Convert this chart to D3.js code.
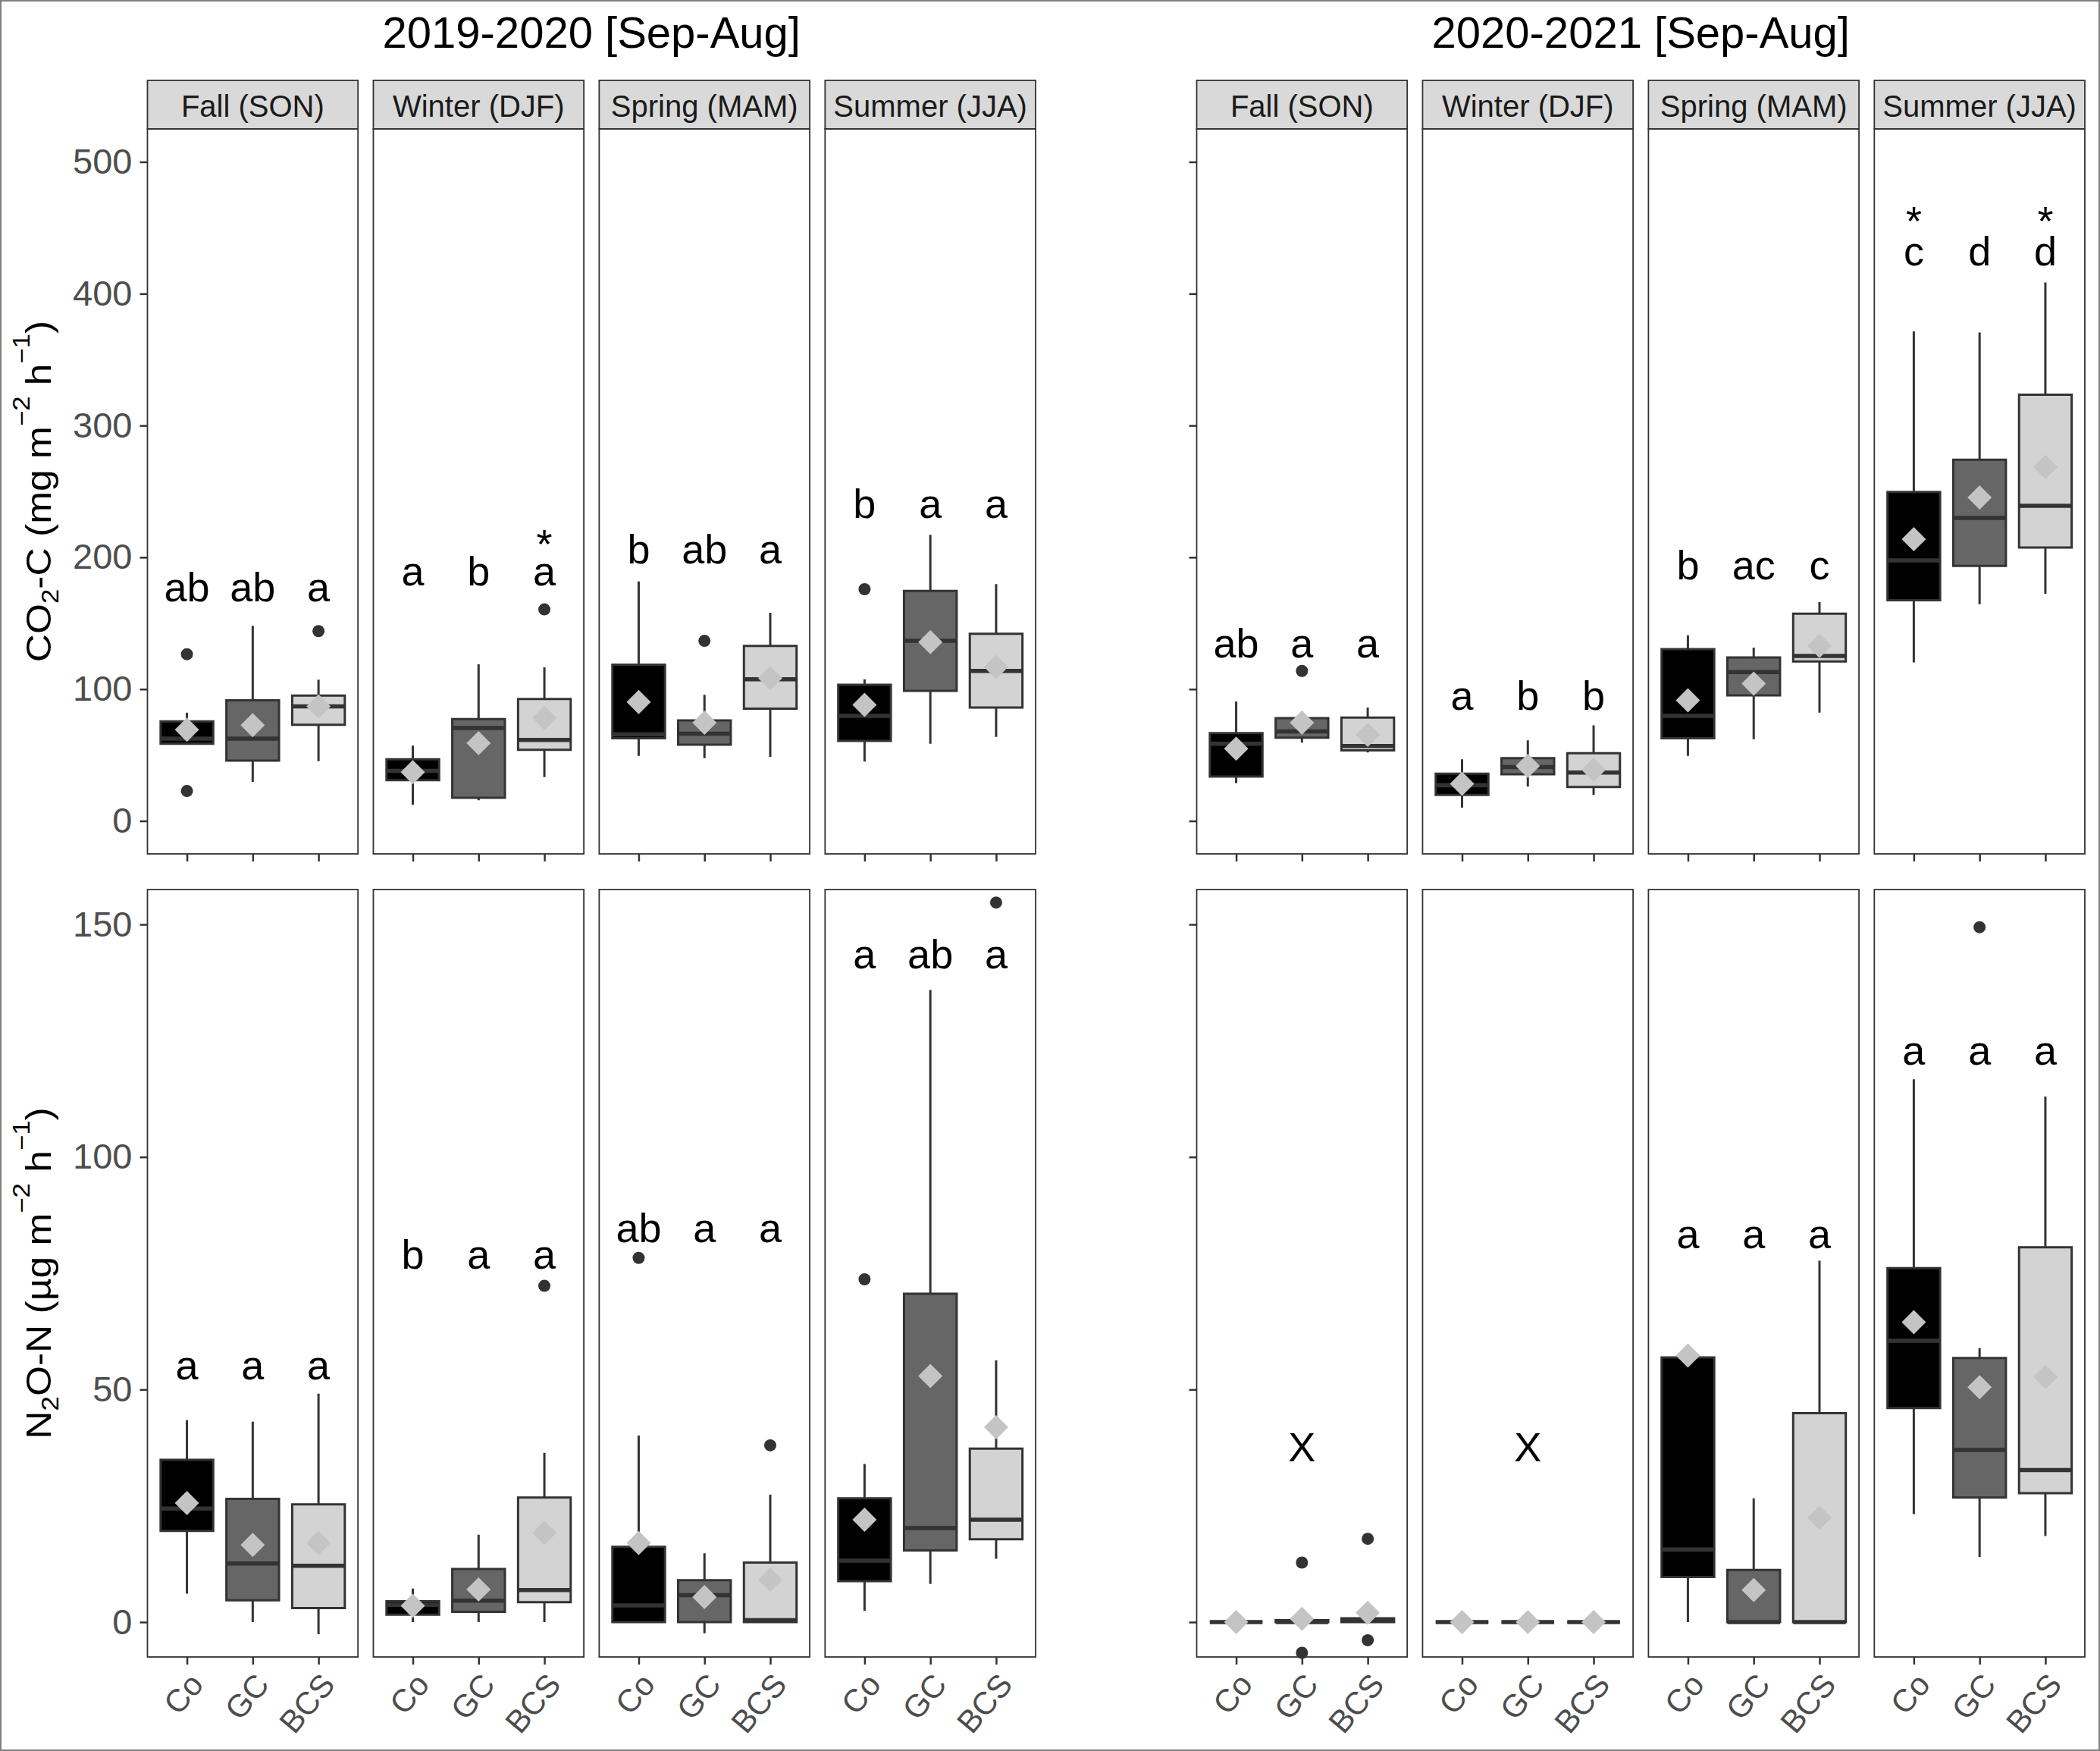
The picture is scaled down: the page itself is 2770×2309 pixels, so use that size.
<!DOCTYPE html>
<html>
<head>
<meta charset="utf-8" />
<title>CO2 and N2O seasonal boxplots</title>
<script src="https://d3js.org/d3.v7.min.js"></script>
<style>
  body { margin: 0; background: #fff; }
  text { font-family: "Liberation Sans", Arial, sans-serif; }
</style>
</head>
<body>
<svg id="chart"></svg>
<script>
var width = 2770, height = 2309;

var years = ["2019-2020 [Sep-Aug]", "2020-2021 [Sep-Aug]"];
var seasons = ["Fall (SON)", "Winter (DJF)", "Spring (MAM)", "Summer (JJA)"];
var treatments = ["Co", "GC", "BCS"];
var co2Limits = [0, 500];
var n2oLimits = [0, 150];
var co2Ticks = [0, 100, 200, 300, 400, 500];
var n2oTicks = [0, 50, 100, 150];

// season, treatment, lower whisker, q1, median, q3, upper whisker, mean
var co2Y1 = [
  ["Fall (SON)",   "Co",  58.6, 58.6,  62.5,  75.5,  82.1,  69.2],
  ["Fall (SON)",   "GC",  29.6, 45.7,  62.5,  91.5, 148.0,  72.6],
  ["Fall (SON)",   "BCS", 45.3, 73.0,  86.9,  95.1, 107.2,  86.9],
  ["Winter (DJF)", "Co",  12.2, 30.9,  38.0,  46.8,  57.1,  37.0],
  ["Winter (DJF)", "GC",  15.7, 17.6,  70.5,  77.2, 118.8,  59.0],
  ["Winter (DJF)", "BCS", 33.2, 53.9,  61.5,  92.5, 116.5,  78.1],
  ["Spring (MAM)", "Co",  49.3, 62.8,  65.8, 118.5, 181.7,  90.2],
  ["Spring (MAM)", "GC",  47.6, 57.8,  66.2,  76.3,  95.7,  74.6],
  ["Spring (MAM)", "BCS", 48.5, 85.2, 107.5, 132.8, 158.0, 108.3],
  ["Summer (JJA)", "Co",  45.0, 60.7,  79.7, 103.3, 107.5,  88.0],
  ["Summer (JJA)", "GC",  58.6, 98.7, 136.6, 174.5, 217.0, 135.7],
  ["Summer (JJA)", "BCS", 63.7, 86.0, 113.8, 142.0, 179.6, 116.8]
];
var co2Y1Out = [
  ["Fall (SON)", "Co", 126.5], ["Fall (SON)", "Co", 22.7], ["Fall (SON)", "BCS", 144.0],
  ["Winter (DJF)", "BCS", 160.5], ["Spring (MAM)", "GC", 136.6], ["Summer (JJA)", "Co", 175.8]
];
var co2Y1Letters = [
  ["Fall (SON)", "Co", "ab", 166.6], ["Fall (SON)", "GC", "ab", 166.6], ["Fall (SON)", "BCS", "a", 166.6],
  ["Winter (DJF)", "Co", "a", 178.4], ["Winter (DJF)", "GC", "b", 178.4], ["Winter (DJF)", "BCS", "a", 178.4],
  ["Winter (DJF)", "BCS", "*", 199.5],
  ["Spring (MAM)", "Co", "b", 195.6], ["Spring (MAM)", "GC", "ab", 195.6], ["Spring (MAM)", "BCS", "a", 195.6],
  ["Summer (JJA)", "Co", "b", 229.8], ["Summer (JJA)", "GC", "a", 229.8], ["Summer (JJA)", "BCS", "a", 229.8]
];

var co2Y2 = [
  ["Fall (SON)",   "Co",   28.7,  33.7,  58.6,  66.6,  90.6,  54.8],
  ["Fall (SON)",   "GC",   59.4,  63.2,  67.9,  78.0,  83.0,  74.6],
  ["Fall (SON)",   "BCS",  51.9,  53.5,  56.9,  78.4,  86.0,  65.3],
  ["Winter (DJF)", "Co",   10.1,  19.8,  27.0,  35.8,  46.8,  28.2],
  ["Winter (DJF)", "GC",   26.1,  35.4,  40.9,  47.6,  61.1,  41.7],
  ["Winter (DJF)", "BCS",  19.8,  25.7,  36.7,  51.4,  72.5,  38.8],
  ["Spring (MAM)", "Co",   49.3,  62.8,  79.7, 130.3, 140.8,  91.5],
  ["Spring (MAM)", "GC",   62.0,  95.3, 113.0, 124.0, 131.5, 104.1],
  ["Spring (MAM)", "BCS",  82.2, 121.0, 125.2, 157.3, 166.0, 132.8],
  ["Summer (JJA)", "Co",  120.2, 167.4, 197.7, 249.6, 371.4, 213.7],
  ["Summer (JJA)", "GC",  164.4, 193.5, 229.8, 274.0, 370.6, 245.4],
  ["Summer (JJA)", "BCS", 172.4, 207.4, 239.0, 323.4, 408.5, 268.5]
];
var co2Y2Out = [
  ["Fall (SON)", "GC", 113.8]
];
var co2Y2Letters = [
  ["Fall (SON)", "Co", "ab", 124], ["Fall (SON)", "GC", "a", 124], ["Fall (SON)", "BCS", "a", 124],
  ["Winter (DJF)", "Co", "a", 84.3], ["Winter (DJF)", "GC", "b", 84.3], ["Winter (DJF)", "BCS", "b", 84.3],
  ["Spring (MAM)", "Co", "b", 183], ["Spring (MAM)", "GC", "ac", 183], ["Spring (MAM)", "BCS", "c", 183],
  ["Summer (JJA)", "Co", "c", 421.6], ["Summer (JJA)", "GC", "d", 421.6], ["Summer (JJA)", "BCS", "d", 421.6],
  ["Summer (JJA)", "Co", "*", 444.7], ["Summer (JJA)", "BCS", "*", 444.7]
];

var n2oY1 = [
  ["Fall (SON)",   "Co",   6.1, 19.6, 24.4, 34.9,  43.4, 25.6],
  ["Fall (SON)",   "GC",   0.0,  4.7, 12.6, 26.5,  43.1, 16.6],
  ["Fall (SON)",   "BCS", -2.6,  3.0, 12.1, 25.3,  49.1, 17.0],
  ["Winter (DJF)", "Co",   0.0,  1.6,  3.7,  4.5,   7.2,  3.5],
  ["Winter (DJF)", "GC",   0.0,  2.2,  4.6, 11.4,  18.8,  7.0],
  ["Winter (DJF)", "BCS",  0.0,  4.3,  6.9, 26.8,  36.4, 19.2],
  ["Spring (MAM)", "Co",   0.0,  0.0,  3.6, 16.2,  40.1, 17.0],
  ["Spring (MAM)", "GC",  -2.4,  0.0,  5.8,  9.0,  14.8,  5.4],
  ["Spring (MAM)", "BCS",  0.0,  0.0,  0.4, 12.8,  27.4,  9.1],
  ["Summer (JJA)", "Co",   2.4,  8.8, 13.2, 26.6,  34.0, 22.0],
  ["Summer (JJA)", "GC",   8.2, 15.4, 20.2, 70.6, 135.9, 52.9],
  ["Summer (JJA)", "BCS", 13.6, 17.8, 22.0, 37.3,  56.3, 41.9]
];
var n2oY1Out = [
  ["Winter (DJF)", "BCS", 72.3], ["Spring (MAM)", "Co", 78.3], ["Spring (MAM)", "BCS", 38.0],
  ["Summer (JJA)", "Co", 73.7], ["Summer (JJA)", "BCS", 154.7]
];
var n2oY1Letters = [
  ["Fall (SON)", "Co", "a", 52.1], ["Fall (SON)", "GC", "a", 52.1], ["Fall (SON)", "BCS", "a", 52.1],
  ["Winter (DJF)", "Co", "b", 76], ["Winter (DJF)", "GC", "a", 76], ["Winter (DJF)", "BCS", "a", 76],
  ["Spring (MAM)", "Co", "ab", 81.7], ["Spring (MAM)", "GC", "a", 81.7], ["Spring (MAM)", "BCS", "a", 81.7],
  ["Summer (JJA)", "Co", "a", 140.5], ["Summer (JJA)", "GC", "ab", 140.5], ["Summer (JJA)", "BCS", "a", 140.5]
];

var n2oY2 = [
  ["Fall (SON)",   "Co",   0.0,  0.0,  0.0,  0.0,   0.0,  0.0],
  ["Fall (SON)",   "GC",   0.0,  0.0,  0.0,  0.4,   0.4,  0.7],
  ["Fall (SON)",   "BCS",  0.0,  0.0,  0.4,  0.8,   0.8,  2.0],
  ["Winter (DJF)", "Co",   0.0,  0.0,  0.0,  0.0,   0.0,  0.0],
  ["Winter (DJF)", "GC",   0.0,  0.0,  0.0,  0.0,   0.0,  0.0],
  ["Winter (DJF)", "BCS",  0.0,  0.0,  0.0,  0.0,   0.0,  0.0],
  ["Spring (MAM)", "Co",   0.0,  9.7, 15.6, 56.9,  56.9, 57.3],
  ["Spring (MAM)", "GC",   0.0,  0.0,  0.0, 11.2,  26.6,  6.9],
  ["Spring (MAM)", "BCS",  0.0,  0.0,  0.0, 44.9,  77.7, 22.4],
  ["Summer (JJA)", "Co",  23.2, 46.0, 60.5, 76.1, 116.7, 64.5],
  ["Summer (JJA)", "GC",  14.0, 26.8, 37.0, 56.8,  58.9, 50.5],
  ["Summer (JJA)", "BCS", 18.5, 27.7, 32.7, 80.6, 113.0, 52.7]
];
var n2oY2Out = [
  ["Fall (SON)", "GC", 12.8], ["Fall (SON)", "GC", -6.6],
  ["Fall (SON)", "BCS", 17.9], ["Fall (SON)", "BCS", -3.9],
  ["Summer (JJA)", "GC", 149.4]
];
var n2oY2Letters = [
  ["Fall (SON)", "GC", "X", 34.6],
  ["Winter (DJF)", "GC", "X", 34.6],
  ["Spring (MAM)", "Co", "a", 80.4], ["Spring (MAM)", "GC", "a", 80.4], ["Spring (MAM)", "BCS", "a", 80.4],
  ["Summer (JJA)", "Co", "a", 119.8], ["Summer (JJA)", "GC", "a", 119.8], ["Summer (JJA)", "BCS", "a", 119.8]
];

// ---- layout / style ----
var fillColor = d3.scaleOrdinal().domain(treatments).range(["#000000", "#666666", "#d3d3d3"]);
var lineColor = "#333333";
var meanColor = "#c4c4c4";
var groupRanges = [[194.5, 1366], [1578.5, 2750]];
var rows = [
  { top: 170, bottom: 1126, limits: co2Limits, ticks: co2Ticks,
    sets: [[co2Y1, co2Y1Out, co2Y1Letters], [co2Y2, co2Y2Out, co2Y2Letters]] },
  { top: 1173, bottom: 2185, limits: n2oLimits, ticks: n2oTicks,
    sets: [[n2oY1, n2oY1Out, n2oY1Letters], [n2oY2, n2oY2Out, n2oY2Letters]] }
];

var svg = d3.select("#chart")
  .attr("width", width)
  .attr("height", height);

svg.append("rect")
  .attr("x", 1).attr("y", 1)
  .attr("width", width - 2).attr("height", height - 2)
  .attr("fill", "#fff")
  .attr("stroke", "#7f7f7f")
  .attr("stroke-width", 2);

// year titles
years.forEach(function(yr, g) {
  svg.append("text")
    .attr("x", (groupRanges[g][0] + groupRanges[g][1]) / 2)
    .attr("y", 63)
    .attr("text-anchor", "middle")
    .attr("font-size", 58)
    .attr("fill", "#000")
    .text(yr);
});

rows.forEach(function(row, r) {
  var pad = (row.limits[1] - row.limits[0]) * 0.05;
  var y = d3.scaleLinear()
    .domain([row.limits[0] - pad, row.limits[1] + pad])
    .range([row.bottom, row.top]);

  groupRanges.forEach(function(range, g) {
    var panelX = d3.scaleBand().domain(seasons).range(range).paddingInner(0.068);
    var stats = row.sets[g][0], outs = row.sets[g][1], letters = row.sets[g][2];

    // y axis
    var yAxis = d3.axisLeft(y).tickValues(row.ticks).tickSize(10).tickPadding(10);
    if (g === 1) yAxis.tickFormat("");
    var ya = svg.append("g")
      .attr("transform", "translate(" + range[0] + ",0)")
      .call(yAxis);
    ya.select(".domain").remove();
    ya.selectAll("line").attr("stroke", lineColor).attr("stroke-width", 2.5);
    ya.selectAll("text")
      .attr("font-size", 47)
      .attr("fill", "#4d4d4d")
      .attr("font-family", "'Liberation Sans', Arial, sans-serif");

    seasons.forEach(function(season) {
      var x0 = panelX(season), w = panelX.bandwidth();
      var x = d3.scalePoint().domain(treatments).range([x0, x0 + w]).padding(0.6);
      var bw = x.step() * 0.8;
      var p = svg.append("g");

      // strip on top row
      if (r === 0) {
        p.append("rect")
          .attr("x", x0).attr("y", 106)
          .attr("width", w).attr("height", row.top - 106)
          .attr("fill", "#d9d9d9")
          .attr("stroke", lineColor).attr("stroke-width", 1.8);
        p.append("text")
          .attr("x", x0 + w / 2).attr("y", 154)
          .attr("text-anchor", "middle")
          .attr("font-size", 40)
          .attr("fill", "#1a1a1a")
          .text(season);
      }

      // x axis
      var xAxis = d3.axisBottom(x).tickSize(10).tickPadding(0);
      if (r === 0) xAxis.tickFormat("");
      var xa = p.append("g")
        .attr("transform", "translate(0," + row.bottom + ")")
        .call(xAxis);
      xa.select(".domain").remove();
      xa.selectAll("line").attr("stroke", lineColor).attr("stroke-width", 2.5);
      xa.selectAll("text")
        .attr("x", 0).attr("y", 0).attr("dy", "0.72em")
        .attr("transform", "translate(0,18) rotate(-50)")
        .style("text-anchor", "end")
        .attr("font-size", 42)
        .attr("fill", "#4d4d4d")
        .attr("font-family", "'Liberation Sans', Arial, sans-serif");

      var rowsHere = stats.filter(function(d) { return d[0] === season; });

      // whiskers
      p.selectAll(".whisker").data(rowsHere).enter().append("path")
        .attr("d", function(d) {
          var cx = x(d[1]);
          return "M" + cx + "," + y(d[5]) + "V" + y(d[6]) +
                 "M" + cx + "," + y(d[3]) + "V" + y(d[2]);
        })
        .attr("stroke", lineColor).attr("stroke-width", 3).attr("fill", "none");

      // boxes
      p.selectAll(".box").data(rowsHere).enter().append("path")
        .attr("d", function(d) {
          var cx = x(d[1]);
          return "M" + (cx - bw / 2) + "," + y(d[5]) + "H" + (cx + bw / 2) +
                 "V" + y(d[3]) + "H" + (cx - bw / 2) + "Z";
        })
        .attr("fill", function(d) { return fillColor(d[1]); })
        .attr("stroke", lineColor).attr("stroke-width", 3);

      // medians
      p.selectAll(".median").data(rowsHere).enter().append("line")
        .attr("x1", function(d) { return x(d[1]) - bw / 2; })
        .attr("x2", function(d) { return x(d[1]) + bw / 2; })
        .attr("y1", function(d) { return y(d[4]); })
        .attr("y2", function(d) { return y(d[4]); })
        .attr("stroke", lineColor).attr("stroke-width", 5.5);

      // outliers
      p.selectAll(".out").data(outs.filter(function(d) { return d[0] === season; }))
        .enter().append("circle")
        .attr("cx", function(d) { return x(d[1]); })
        .attr("cy", function(d) { return y(d[2]); })
        .attr("r", 8)
        .attr("fill", lineColor);

      // means
      p.selectAll(".mean").data(rowsHere).enter().append("path")
        .attr("d", function(d) {
          var cx = x(d[1]), cy = y(d[7]), s = 16;
          return "M" + cx + "," + (cy - s) + "L" + (cx + s) + "," + cy +
                 "L" + cx + "," + (cy + s) + "L" + (cx - s) + "," + cy + "Z";
        })
        .attr("fill", meanColor);

      // letters; an asterisk goes into the same text as the letter below it
      var here = letters.filter(function(d) { return d[0] === season; });
      var labels = {};
      here.filter(function(d) { return d[2] !== "*"; }).forEach(function(d) {
        labels[d[1]] = p.append("text")
          .attr("text-anchor", "middle")
          .attr("font-size", 54)
          .attr("font-family", "'Open Sans', sans-serif")
          .attr("fill", "#000");
        labels[d[1]].append("tspan")
          .attr("x", x(d[1]))
          .attr("y", y(d[3]))
          .text(d[2]);
      });
      here.filter(function(d) { return d[2] === "*"; }).forEach(function(d) {
        labels[d[1]].append("tspan")
          .attr("x", x(d[1]))
          .attr("y", y(d[3]))
          .text(d[2]);
      });

      // panel border
      p.append("rect")
        .attr("x", x0).attr("y", row.top)
        .attr("width", w).attr("height", row.bottom - row.top)
        .attr("fill", "none")
        .attr("stroke", lineColor).attr("stroke-width", 1.8);
    });
  });
});

// y axis titles with sub/superscripts
function yTitle(parts, cy) {
  var t = svg.append("text")
    .attr("transform", "translate(67," + cy + ") scale(1,1.12) rotate(-90)")
    .attr("text-anchor", "middle")
    .attr("font-size", 46)
    .attr("fill", "#000");
  var shift = 0;
  parts.forEach(function(pt) {
    var target = pt[1] === "sub" ? 10 : pt[1] === "sup" ? -28 : 0;
    t.append("tspan")
      .attr("dy", target - shift)
      .attr("font-size", pt[1] ? 31 : 46)
      .text(pt[0]);
    shift = target;
  });
}
yTitle([["CO", ""], ["2", "sub"], ["-C (mg m", ""], ["\u22122", "sup"], [" h", ""], ["\u22121", "sup"], [")", ""]],
       (rows[0].top + rows[0].bottom) / 2);
yTitle([["N", ""], ["2", "sub"], ["O-N (\u00b5g m", ""], ["\u22122", "sup"], [" h", ""], ["\u22121", "sup"], [")", ""]],
       (rows[1].top + rows[1].bottom) / 2);
</script>
</body>
</html>
